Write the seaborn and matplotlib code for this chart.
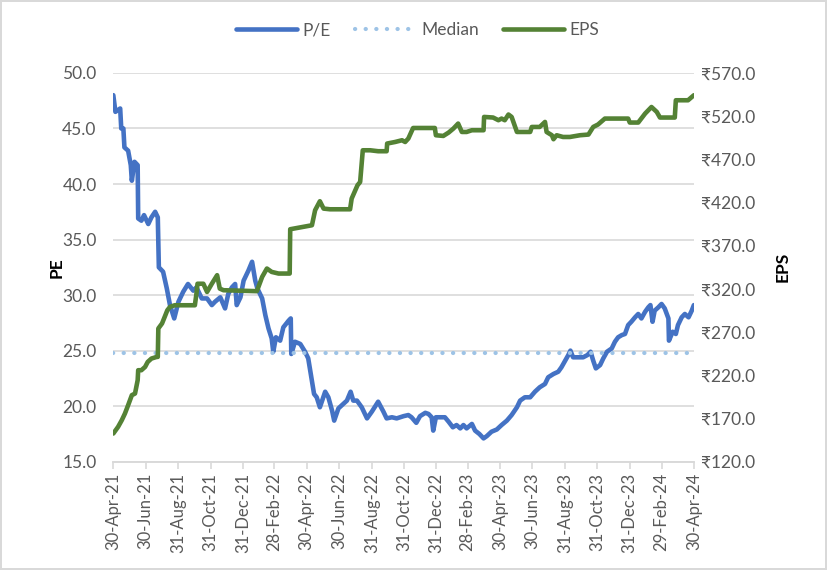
import numpy as np
import pandas as pd
import matplotlib
matplotlib.use("Agg")
import matplotlib.pyplot as plt
import matplotlib.ticker as mticker
import seaborn as sns

# values
pe_dates = [
    "2021-04-30", "2021-05-04", "2021-05-13", "2021-05-15", "2021-05-19", "2021-05-21", "2021-05-28", "2021-06-02", "2021-06-04", "2021-06-09",
    "2021-06-15", "2021-06-16", "2021-06-22", "2021-06-27", "2021-07-05", "2021-07-11", "2021-07-18", "2021-07-23", "2021-07-25", "2021-08-02",
    "2021-08-09", "2021-08-15", "2021-08-23", "2021-08-31", "2021-09-09", "2021-09-18", "2021-09-28", "2021-10-04", "2021-10-14", "2021-10-24",
    "2021-11-02", "2021-11-08", "2021-11-18", "2021-11-27", "2021-12-03", "2021-12-10", "2021-12-16", "2021-12-19", "2021-12-26", "2022-01-01",
    "2022-01-10", "2022-01-17", "2022-01-23", "2022-01-27", "2022-02-05", "2022-02-11", "2022-02-17", "2022-02-23", "2022-02-26", "2022-03-03",
    "2022-03-11", "2022-03-17", "2022-03-27", "2022-03-31", "2022-04-01", "2022-04-08", "2022-04-18", "2022-04-27", "2022-05-03", "2022-05-10",
    "2022-05-14", "2022-05-19", "2022-05-25", "2022-06-04", "2022-06-10", "2022-06-17", "2022-06-21", "2022-06-29", "2022-07-08", "2022-07-15",
    "2022-07-22", "2022-07-27", "2022-08-03", "2022-08-12", "2022-08-22", "2022-08-31", "2022-09-12", "2022-09-22", "2022-09-28", "2022-10-08",
    "2022-10-17", "2022-10-30", "2022-11-08", "2022-11-14", "2022-11-23", "2022-11-30", "2022-12-10", "2022-12-16", "2022-12-22", "2022-12-25",
    "2022-12-30", "2023-01-07", "2023-01-16", "2023-01-23", "2023-01-31", "2023-02-07", "2023-02-14", "2023-02-20", "2023-02-26", "2023-03-08",
    "2023-03-14", "2023-03-22", "2023-03-30", "2023-04-05", "2023-04-14", "2023-04-24", "2023-05-03", "2023-05-13", "2023-05-22", "2023-06-01",
    "2023-06-07", "2023-06-16", "2023-06-26", "2023-07-05", "2023-07-14", "2023-07-24", "2023-07-30", "2023-08-09", "2023-08-18", "2023-08-24",
    "2023-08-31", "2023-09-06", "2023-09-10", "2023-09-15", "2023-09-25", "2023-10-04", "2023-10-12", "2023-10-18", "2023-10-23", "2023-10-28",
    "2023-11-05", "2023-11-11", "2023-11-18", "2023-11-27", "2023-12-03", "2023-12-09", "2023-12-16", "2023-12-22", "2023-12-28", "2024-01-03",
    "2024-01-10", "2024-01-16", "2024-01-22", "2024-01-29", "2024-02-04", "2024-02-08", "2024-02-12", "2024-02-16", "2024-02-23", "2024-02-29",
    "2024-03-06", "2024-03-13", "2024-03-14", "2024-03-21", "2024-03-27", "2024-03-31", "2024-04-07", "2024-04-13", "2024-04-20", "2024-04-26",
    "2024-04-30",
]
pe_values = [
    48.0, 46.5, 46.8, 45.0, 45.0, 43.3, 43.0, 41.7, 40.3, 42.0,
    41.7, 36.9, 36.7, 37.2, 36.4, 37.0, 37.5, 37.0, 32.5, 32.1,
    30.6, 29.1, 27.9, 29.4, 30.3, 31.0, 30.4, 30.7, 29.7, 29.7,
    29.1, 29.4, 29.8, 28.8, 30.1, 30.7, 31.0, 29.1, 29.8, 31.3,
    32.2, 33.0, 31.3, 30.6, 29.7, 28.2, 27.0, 26.1, 24.9, 26.2,
    25.9, 27.1, 27.7, 27.9, 24.7, 25.8, 25.6, 24.9, 24.3, 22.3,
    21.1, 20.8, 19.9, 21.3, 20.8, 19.6, 18.7, 19.8, 20.2, 20.5,
    21.3, 20.5, 20.5, 19.9, 18.9, 19.5, 20.4, 19.5, 18.9, 19.0,
    18.9, 19.1, 19.2, 19.0, 18.5, 19.1, 19.4, 19.3, 19.0, 17.8,
    19.0, 19.0, 19.0, 18.6, 18.1, 18.3, 18.0, 18.3, 18.0, 18.4,
    17.8, 17.5, 17.1, 17.3, 17.7, 17.9, 18.3, 18.7, 19.2, 19.9,
    20.5, 20.8, 20.8, 21.3, 21.7, 22.0, 22.6, 22.9, 23.1, 23.5,
    24.1, 24.6, 25.0, 24.4, 24.4, 24.4, 24.6, 24.9, 24.1, 23.4,
    23.7, 24.3, 24.9, 25.2, 25.8, 26.2, 26.4, 26.5, 27.3, 27.6,
    28.0, 28.3, 27.9, 28.5, 28.9, 29.1, 27.6, 28.6, 28.9, 29.2,
    28.8, 27.9, 25.9, 26.7, 26.5, 27.3, 28.0, 28.3, 28.0, 28.6,
    29.1,
]
pe_median = 24.8

eps_dates = [
    "2021-04-30", "2021-05-09", "2021-05-16", "2021-05-22", "2021-05-28", "2021-06-04", "2021-06-10", "2021-06-15", "2021-06-16", "2021-06-22",
    "2021-06-29", "2021-07-04", "2021-07-11", "2021-07-21", "2021-07-23", "2021-07-24", "2021-07-31", "2021-08-05", "2021-08-10", "2021-08-15",
    "2021-08-24", "2021-10-01", "2021-10-04", "2021-10-06", "2021-10-17", "2021-10-24", "2021-11-02", "2021-11-12", "2021-11-17", "2021-11-24",
    "2022-01-26", "2022-02-05", "2022-02-14", "2022-02-23", "2022-03-08", "2022-03-29", "2022-03-30", "2022-05-10", "2022-05-16", "2022-05-25",
    "2022-06-01", "2022-06-13", "2022-07-21", "2022-07-24", "2022-08-04", "2022-08-09", "2022-08-14", "2022-08-28", "2022-09-12", "2022-09-28",
    "2022-09-29", "2022-10-14", "2022-10-27", "2022-11-02", "2022-11-08", "2022-11-17", "2022-12-28", "2022-12-30", "2023-01-13", "2023-01-23",
    "2023-02-01", "2023-02-10", "2023-02-17", "2023-02-26", "2023-03-08", "2023-03-30", "2023-03-31", "2023-04-17", "2023-04-27", "2023-05-03",
    "2023-05-09", "2023-05-16", "2023-05-22", "2023-06-01", "2023-06-26", "2023-06-29", "2023-07-14", "2023-07-24", "2023-07-27", "2023-08-06",
    "2023-08-09", "2023-08-15", "2023-08-27", "2023-09-09", "2023-09-28", "2023-10-14", "2023-10-23", "2023-11-01", "2023-11-14", "2023-12-28",
    "2023-12-31", "2024-01-16", "2024-01-29", "2024-02-10", "2024-02-20", "2024-02-26", "2024-03-25", "2024-03-27", "2024-04-19", "2024-04-30",
]
eps_values = [
    152.6, 160.3, 168.0, 175.8, 185.4, 197.0, 198.9, 214.3, 225.9, 225.9,
    229.7, 235.5, 239.4, 241.3, 241.3, 274.2, 280.0, 287.6, 295.3, 299.2,
    301.1, 301.1, 314.7, 326.0, 326.0, 316.5, 326.0, 335.9, 320.4, 318.5,
    317.4, 333.9, 343.6, 339.7, 337.8, 337.8, 389.1, 393.7, 411.1, 421.5,
    413.0, 412.2, 412.2, 424.6, 440.0, 443.8, 480.5, 480.5, 479.4, 479.4,
    488.3, 490.1, 492.1, 490.1, 494.1, 506.3, 506.3, 497.9, 497.1, 501.0,
    505.6, 511.4, 501.7, 501.7, 503.7, 503.7, 519.1, 518.4, 515.3, 517.2,
    515.3, 521.9, 519.1, 501.7, 501.7, 507.5, 507.5, 513.3, 501.7, 497.9,
    493.3, 497.9, 495.9, 495.9, 497.9, 498.7, 507.5, 510.3, 517.2, 517.2,
    512.6, 512.6, 523.0, 530.6, 524.9, 518.4, 518.4, 538.4, 538.4, 544.2,
]

tick_dates = [
    "2021-04-30", "2021-06-30", "2021-08-31", "2021-10-31", "2021-12-31", "2022-02-28",
    "2022-04-30", "2022-06-30", "2022-08-31", "2022-10-31", "2022-12-31", "2023-02-28",
    "2023-04-30", "2023-06-30", "2023-08-31", "2023-10-31", "2023-12-31", "2024-02-29",
    "2024-04-30",
]
pe_ticks = [15, 20, 25, 30, 35, 40, 45, 50]
eps_ticks = [120, 170, 220, 270, 320, 370, 420, 470, 520, 570]

pe = pd.DataFrame({"date": pd.to_datetime(pe_dates), "pe": pe_values})
pe["median"] = pe_median
eps = pd.DataFrame({"date": pd.to_datetime(eps_dates), "eps": eps_values})
ticks = pd.to_datetime(tick_dates)

BLUE = "#4472C4"
GREEN = "#548235"
LIGHT = "#9DC3E6"
GREY = "#595959"
GRID = "#D9D9D9"

sns.set_theme(style="white")
plt.rcParams["font.family"] = ["Lato", "DejaVu Sans"]

fig, ax = plt.subplots(figsize=(8.27, 5.70), dpi=100)
fig.subplots_adjust(left=0.137, right=0.839, bottom=0.19, top=0.872)
fig.patch.set_edgecolor(GRID)
fig.patch.set_linewidth(1.5)
ax2 = ax.twinx()

sns.lineplot(data=pe, x="date", y="pe", ax=ax, color=BLUE, lw=3.3,
             label="P/E", sort=False, estimator=None)
sns.lineplot(data=pe, x="date", y="median", ax=ax, color=LIGHT, lw=3.0,
             label="Median", sort=False, estimator=None,
             linestyle=(0, (0.05, 2.5)), dash_capstyle="round")
sns.lineplot(data=eps, x="date", y="eps", ax=ax2, color=GREEN, lw=3.3,
             label="EPS", sort=False, estimator=None)

ax.set_ylim(15, 50)
ax2.set_ylim(120, 570)
ax.set_yticks(pe_ticks)
ax2.set_yticks(eps_ticks)
ax.yaxis.set_major_formatter(mticker.FuncFormatter(lambda v, p: f"{v:.1f}"))
ax2.yaxis.set_major_formatter(mticker.FuncFormatter(lambda v, p: f"\u20b9{v:.1f}"))
ax.set_xlim(ticks[0], ticks[-1])
ax.set_xticks(ticks)
ax.set_xticklabels([d.strftime("%d-%b-%y") for d in ticks], rotation=90)

ax.grid(axis="y", color=GRID, lw=1.2)
ax.set_axisbelow(True)
for a in (ax, ax2):
    for s in ("top", "left", "right"):
        a.spines[s].set_visible(False)
    a.spines["bottom"].set_color(GRID)
    a.spines["bottom"].set_linewidth(1.2)
    a.tick_params(axis="y", length=0, labelsize=12.5, labelcolor=GREY)
ax.tick_params(axis="y", pad=12)
ax2.tick_params(axis="y", pad=5)
ax.tick_params(axis="x", length=5, width=1.2, color=GRID, labelsize=12,
               labelcolor=GREY, pad=3, bottom=True)

ax.set_xlabel("")
ax.set_ylabel("PE", fontsize=12.5, fontweight="bold", color="black", labelpad=-2)
ax2.set_ylabel("EPS", fontsize=12.5, fontweight="bold", color="black", labelpad=14)

h1, l1 = ax.get_legend_handles_labels()
h2, l2 = ax2.get_legend_handles_labels()
ax.get_legend().remove()
ax2.get_legend().remove()
fig.legend(h1 + h2, l1 + l2, loc="center", bbox_to_anchor=(0.505, 0.947), ncol=3,
           frameon=False, fontsize=12.5, labelcolor=GREY, handlelength=3.5,
           columnspacing=1.4, handletextpad=0.3)

fig.savefig("out.png", dpi=100)
